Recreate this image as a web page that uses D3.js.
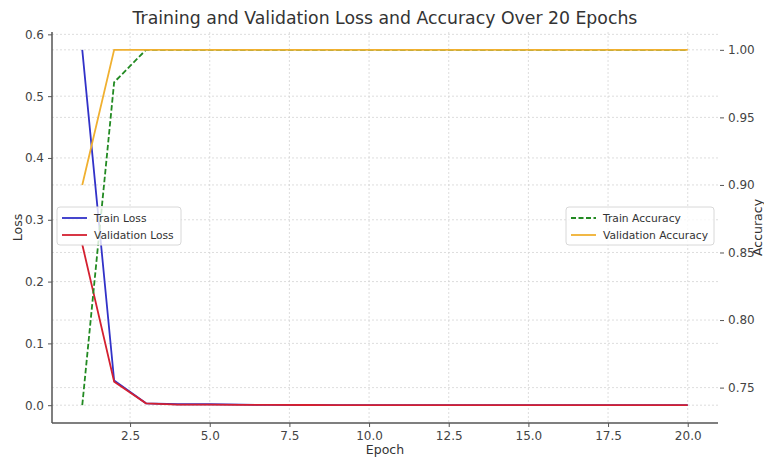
<!DOCTYPE html>
<html><head><meta charset="utf-8">
<script src="https://cdn.jsdelivr.net/npm/d3@7"></script>
<style>body{margin:0;background:#fff}svg{display:block}text{font-family:"DejaVu Sans",sans-serif}</style>
</head><body><svg id="c" width="764" height="460"></svg>
<script>
const epochs = d3.range(1, 21);
const trainLoss = [0.575, 0.040, 0.003, 0.0015, 0.0015, 0.0008, 0.0004, 0.0003, 0.0002, 0.0002, 0.0001, 0.0001, 0.0001, 0.0001, 0.0001, 0.0001, 0.0001, 0.0001, 0.0001, 0.0001];
const valLoss = [0.260, 0.038, 0.003, 0.001, 0.001, 0.0006, 0.0004, 0.0003, 0.0002, 0.0002, 0.0001, 0.0001, 0.0001, 0.0001, 0.0001, 0.0001, 0.0001, 0.0001, 0.0001, 0.0001];
const trainAcc = [0.737, 0.976, 1, 1, 1, 1, 1, 1, 1, 1, 1, 1, 1, 1, 1, 1, 1, 1, 1, 1];
const valAcc = [0.90, 1, 1, 1, 1, 1, 1, 1, 1, 1, 1, 1, 1, 1, 1, 1, 1, 1, 1, 1];
const xTicks = [2.5, 5, 7.5, 10, 12.5, 15, 17.5, 20];
const lossTicks = [0, 0.1, 0.2, 0.3, 0.4, 0.5, 0.6];
const accTicks = [0.75, 0.80, 0.85, 0.90, 0.95, 1.00];

const L = 52, R = 718, T = 32, B = 423;
const svg = d3.select("#c");
const x = d3.scaleLinear().domain([0.05, 20.95]).range([L, R]);
const yL = d3.scaleLinear().domain([-0.0288, 0.6038]).range([B, T]);
const yR = d3.scaleLinear().domain([0.7238, 1.0132]).range([B, T]);

// grids
const grid = svg.append("g").attr("stroke", "#d4d4d4").attr("stroke-width", 0.8).attr("stroke-dasharray", "2,2");
xTicks.forEach(t => grid.append("line").attr("x1", x(t)).attr("x2", x(t)).attr("y1", T).attr("y2", B));
lossTicks.forEach(t => grid.append("line").attr("x1", L).attr("x2", R).attr("y1", yL(t)).attr("y2", yL(t)));
accTicks.forEach(t => grid.append("line").attr("x1", L).attr("x2", R).attr("y1", yR(t)).attr("y2", yR(t)));

// lines
const lineL = d3.line().x((d, i) => x(epochs[i])).y(d => yL(d));
const lineR = d3.line().x((d, i) => x(epochs[i])).y(d => yR(d));
svg.append("path").attr("d", lineL(trainLoss)).attr("fill", "none").attr("stroke", "#3232c8").attr("stroke-width", 1.8);
svg.append("path").attr("d", lineL(valLoss)).attr("fill", "none").attr("stroke", "#d42030").attr("stroke-width", 1.8);
svg.append("path").attr("d", lineR(trainAcc)).attr("fill", "none").attr("stroke", "#228a22").attr("stroke-width", 1.8).attr("stroke-dasharray", "5.5,2.5");
svg.append("path").attr("d", lineR(valAcc)).attr("fill", "none").attr("stroke", "#f0b030").attr("stroke-width", 1.8);

// axes
const fmt1 = d3.format(".1f"), fmt2 = d3.format(".2f");
const ax = svg.append("g").attr("transform", `translate(0,${B})`).call(d3.axisBottom(x).tickValues(xTicks).tickFormat(fmt1).tickSize(4).tickPadding(4));
const ay = svg.append("g").attr("transform", `translate(${L},0)`).call(d3.axisLeft(yL).tickValues(lossTicks).tickFormat(fmt1).tickSize(4).tickPadding(4));
const ar = svg.append("g").attr("transform", `translate(${R + 2},0)`).call(d3.axisRight(yR).tickValues(accTicks).tickFormat(fmt2).tickSize(4).tickPadding(4));
[ax, ay, ar].forEach(g => {
  g.selectAll("text").attr("font-size", 12).attr("fill", "#444").attr("font-family", "DejaVu Sans");
  g.selectAll("line").attr("stroke", "#555");
  g.select(".domain").remove();
});
// spines (left and bottom only)
svg.append("line").attr("x1", L).attr("x2", L).attr("y1", T).attr("y2", B).attr("stroke", "#555").attr("stroke-width", 1.5);
svg.append("line").attr("x1", L).attr("x2", R).attr("y1", B).attr("y2", B).attr("stroke", "#555").attr("stroke-width", 1.5);

// labels
svg.append("text").attr("x", 385).attr("y", 24).attr("text-anchor", "middle").attr("font-size", 17.3).attr("fill", "#333").text("Training and Validation Loss and Accuracy Over 20 Epochs");
svg.append("text").attr("x", (L + R) / 2).attr("y", 454).attr("text-anchor", "middle").attr("font-size", 12.5).attr("fill", "#333").text("Epoch");
svg.append("text").attr("transform", `translate(22,${(T + B) / 2}) rotate(-90)`).attr("text-anchor", "middle").attr("font-size", 12.5).attr("fill", "#333").text("Loss");
svg.append("text").attr("transform", `translate(762,${(T + B) / 2}) rotate(-90)`).attr("text-anchor", "middle").attr("font-size", 12.5).attr("fill", "#333").text("Accuracy");

// legends
function legend(x0, y0, w, items) {
  const g = svg.append("g");
  g.append("rect").attr("x", x0).attr("y", y0).attr("width", w).attr("height", 38).attr("rx", 3).attr("fill", "rgba(255,255,255,0.8)").attr("stroke", "#d8d8d8");
  items.forEach((it, i) => {
    const yy = y0 + 11 + i * 17;
    g.append("line").attr("x1", x0 + 5).attr("x2", x0 + 30).attr("y1", yy).attr("y2", yy).attr("stroke", it.c).attr("stroke-width", 1.8).attr("stroke-dasharray", it.dash || null);
    g.append("text").attr("x", x0 + 37).attr("y", yy + 4).attr("font-size", 10.7).attr("fill", "#333").text(it.t);
  });
}
legend(57, 207, 124, [{t: "Train Loss", c: "#3232c8"}, {t: "Validation Loss", c: "#d42030"}]);
legend(566, 207, 148, [{t: "Train Accuracy", c: "#228a22", dash: "5,2.5"}, {t: "Validation Accuracy", c: "#f0b030"}]);
</script></body></html>
